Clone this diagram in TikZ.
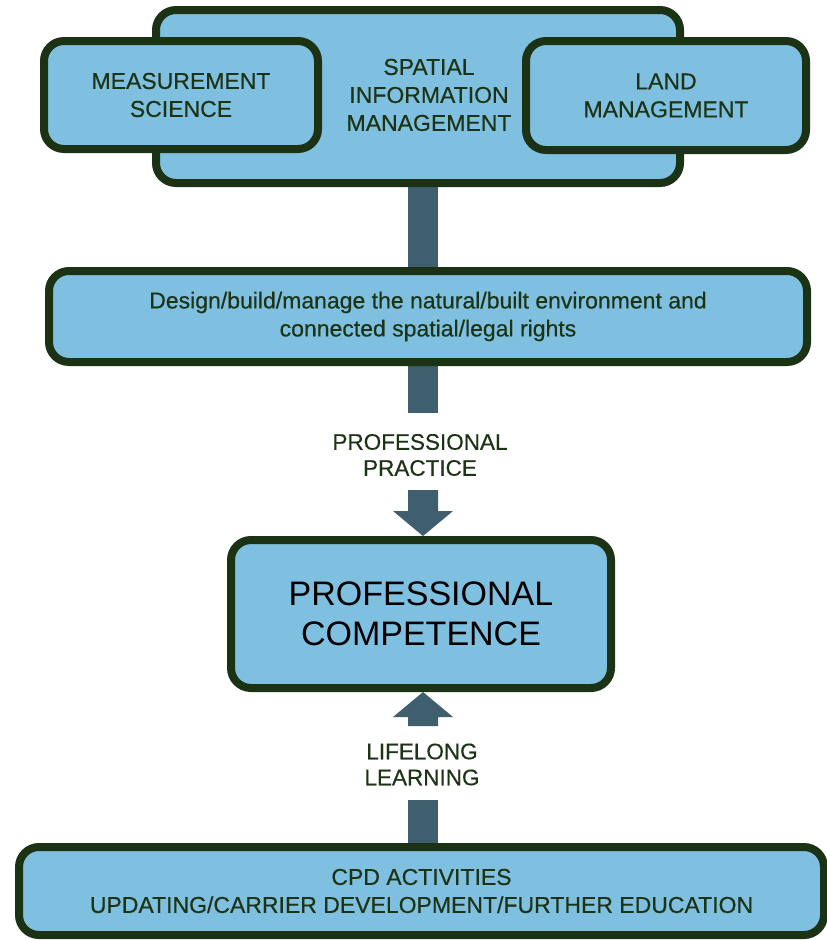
\documentclass[tikz,border=0pt]{standalone}
\usepackage{fontspec}
\setmainfont{Liberation Sans}
\newfontfamily\heavyfont{Liberation Sans}[UprightFeatures={FakeBold=0.4}]
\usetikzlibrary{backgrounds,calc}
\definecolor{boxfill}{RGB}{127,191,224}
\definecolor{boxline}{RGB}{28,50,20}
\definecolor{arrowc}{RGB}{63,94,110}
\definecolor{txt}{RGB}{28,51,21}
\begin{document}
\begin{tikzpicture}[x=1pt,y=1pt,
  box/.style={draw=boxline, line width=8pt, fill=boxfill, rounded corners=20pt,
    text=txt, align=center, inner sep=0pt, font=\heavyfont\fontsize{23}{28}\selectfont},
  lbl/.style={text=txt, align=center, inner sep=0pt, font=\heavyfont\fontsize{22.5}{26}\selectfont},
  stem/.style={draw=arrowc, line width=30pt},
  arrowhead/.style={fill=arrowc}]
\useasboundingbox (0,0) rectangle (827,-940);
% boxes
\node[box, minimum width=524pt, minimum height=173pt] (sim) at (418,-96.5) {};
\node[lbl, font=\heavyfont\fontsize{23}{28}\selectfont] (simtext) at (429,-95) {SPATIAL\\INFORMATION\\MANAGEMENT};
\node[box, minimum width=274pt, minimum height=108pt] (meas) at (181,-95) {MEASUREMENT\\SCIENCE};
\node[box, minimum width=280pt, minimum height=109pt] (land) at (666,-95.5) {LAND\\MANAGEMENT};
\node[box, minimum width=758pt, minimum height=91pt] (design) at (428,-316.5)
  {Design/build/manage the natural/built environment and\\connected spatial/legal rights};
\node[box, text=black, font=\rmfamily\fontsize{34}{40}\selectfont, minimum width=380pt, minimum height=148pt] (comp) at (421,-614)
  {PROFESSIONAL\\COMPETENCE};
\node[box, minimum width=805pt, minimum height=88pt] (cpd) at (421.5,-891)
  {CPD ACTIVITIES\\UPDATING/CARRIER DEVELOPMENT/FURTHER EDUCATION};
% labels
\node[lbl] (pp) at (420,-455) {PROFESSIONAL\\PRACTICE};
\node[lbl] (ll) at (422,-764.5) {LIFELONG\\LEARNING};
% connector coordinates
\coordinate (ax) at (423,0);
\coordinate (stemend) at (423,-413);
\coordinate (lowstem) at (423,-800);
\coordinate (tipd) at (comp.north -| ax);
\coordinate (tipu) at (comp.south -| ax);
% arrows
\fill[arrowhead] (tipd) -- ++(30,25) -- ++(-15,0) -- ++(0,21) -- ++(-30,0) -- ++(0,-21) -- ++(-15,0) -- cycle;
\fill[arrowhead] (tipu) -- ++(30,-25) -- ++(-15,0) -- ++(0,-9) -- ++(-30,0) -- ++(0,9) -- ++(-15,0) -- cycle;
\begin{pgfonlayer}{background}
\fill[white] (0,0) rectangle (827,-940);
\draw[stem] (sim.south -| ax) -- (design.north -| ax);
\draw[stem] (design.south -| ax) -- (stemend);
\draw[stem] (cpd.north -| ax) -- (lowstem);
\end{pgfonlayer}
\end{tikzpicture}
\end{document}
